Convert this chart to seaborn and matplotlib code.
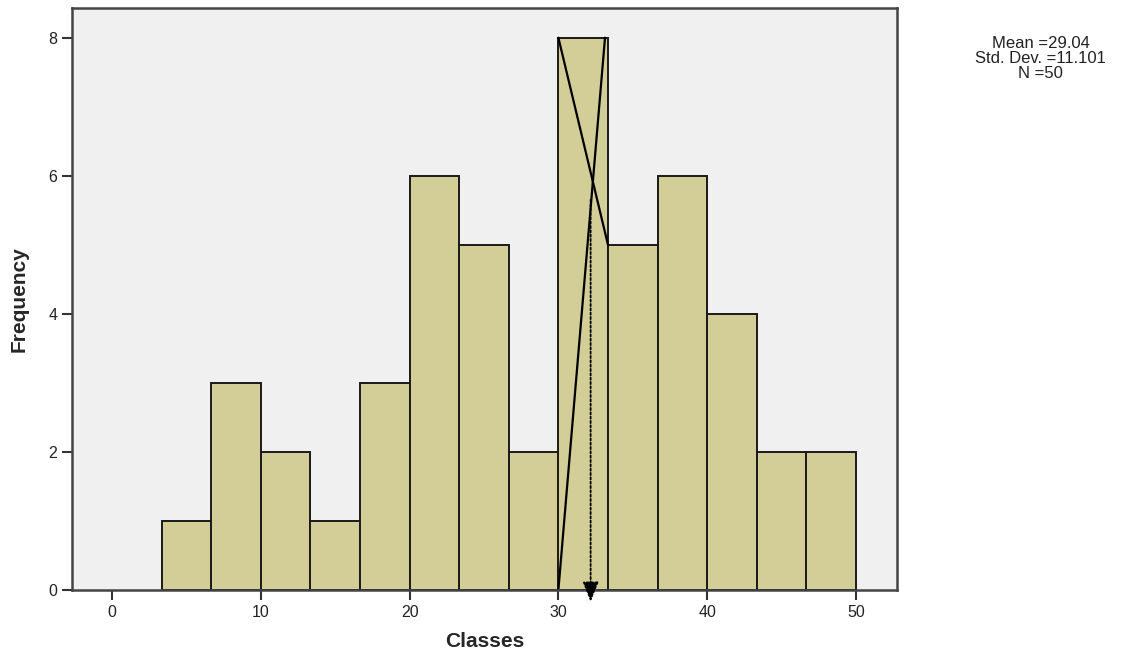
import numpy as np
import pandas as pd
import seaborn as sns
import matplotlib.pyplot as plt

# class intervals (width 10/3) and frequencies
bin_lo = 10 / 3
bin_width = 10 / 3
counts = [1, 3, 2, 1, 3, 6, 5, 2, 8, 5, 6, 4, 2, 2]
stats_text = "Mean =29.04\nStd. Dev. =11.101\nN =50"

edges = bin_lo + bin_width * np.arange(len(counts) + 1)
mids = (edges[:-1] + edges[1:]) / 2
df = pd.DataFrame({"mid": mids, "n": counts})

sns.set_style("white")
plt.rcParams["font.family"] = ["Liberation Sans", "DejaVu Sans"]

fig = plt.figure(figsize=(11.31, 6.52), dpi=100)
ax = fig.add_axes([0.0637, 0.0951, 0.7294, 0.8926])
ax.set_facecolor("#f0f0f0")

sns.histplot(data=df, x="mid", weights="n", binwidth=bin_width,
             binrange=(edges[0], edges[-1]), color="#d3ce97", alpha=1,
             edgecolor="#1a1a1a", linewidth=1.4, ax=ax)

# mode construction: modal class lines
m = int(np.argmax(counts))
x0, x1 = edges[m], edges[m + 1]
f_mode, f_next = counts[m], counts[m + 1]
p1 = (x0, f_mode), (x1, f_next)
p2 = (x0, 0), (x1 - 0.2, f_mode)
ax.plot(*zip(*p1), color="black", lw=1.6)
ax.plot(*zip(*p2), color="black", lw=1.6)

# intersection of the two lines
s1 = (f_next - f_mode) / (x1 - x0)
s2 = f_mode / (x1 - 0.2 - x0)
xi = f_mode / (s2 - s1)
mode_x = x0 + xi - 0.15
ax.annotate("", xy=(mode_x, -0.17), xytext=(mode_x, 5.65),
            arrowprops=dict(arrowstyle="-|>,head_length=0.55,head_width=0.22",
                            color="black", lw=1.3, shrinkA=0, shrinkB=0,
                            linestyle=(0, (1.2, 1.2)), mutation_scale=22),
            annotation_clip=False)

ax.set_xlim(-2.69, 52.76)
ax.set_ylim(0, 8.43)
ax.set_xticks([0, 10, 20, 30, 40, 50])
ax.set_yticks([0, 2, 4, 6, 8])
ax.tick_params(axis="both", direction="out", length=7, width=1.5,
               colors="#333333", labelsize=11.5, labelcolor="#222222", left=True, bottom=True)
for s in ax.spines.values():
    s.set_color("#444444")
    s.set_linewidth(1.8)

ax.set_xlabel("Classes", fontsize=15, fontweight="bold", labelpad=9)
ax.set_ylabel("Frequency", fontsize=15, fontweight="bold", labelpad=14,
              family=["Liberation Sans Narrow", "Liberation Sans", "DejaVu Sans"])

fig.text(0.920, 0.911, stats_text, ha="center", va="center", fontsize=12,
         linespacing=1.0, color="#222222")

fig.savefig("out.png", dpi=100)
